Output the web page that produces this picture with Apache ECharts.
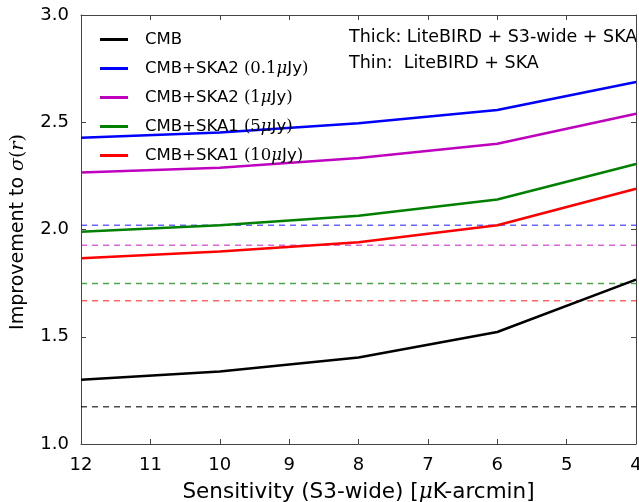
<!DOCTYPE html>
<html>
<head>
<meta charset="utf-8">
<script src="https://cdn.jsdelivr.net/npm/echarts@6/dist/echarts.min.js"></script>
<style>
  html, body { margin: 0; padding: 0; background: #fff; }
  #chart { width: 639px; height: 502px; }
</style>
</head>
<body>
<div id="chart"></div>
<script>
// sensitivity points (S3-wide, uK-arcmin)
const sens = [12, 10, 8, 6, 4];

// thick lines: LiteBIRD + S3-wide + SKA
const cmb      = [1.299, 1.338, 1.403, 1.522, 1.766];
const ska2_01  = [2.428, 2.452, 2.495, 2.557, 2.688];
const ska2_1   = [2.266, 2.288, 2.333, 2.400, 2.540];
const ska1_5   = [1.990, 2.020, 2.064, 2.140, 2.305];
const ska1_10  = [1.866, 1.897, 1.941, 2.020, 2.190];

// thin dashed lines: LiteBIRD + SKA (flat)
const thin = { cmb: 1.174, ska2_01: 2.020, ska2_1: 1.927, ska1_5: 1.748, ska1_10: 1.668 };

const names = ['CMB', 'CMB+SKA2 (0.1μJy)', 'CMB+SKA2 (1μJy)', 'CMB+SKA1 (5μJy)', 'CMB+SKA1 (10μJy)'];
const colors = ['#000000', '#0000ff', '#bf00bf', '#008000', '#ff0000'];
const dashColors = ['rgba(0,0,0,0.7)', 'rgba(0,0,255,0.6)', 'rgba(191,0,191,0.6)', 'rgba(0,128,0,0.7)', 'rgba(255,0,0,0.6)'];
const thick = [cmb, ska2_01, ska2_1, ska1_5, ska1_10];
const thinVals = [thin.cmb, thin.ska2_01, thin.ska2_1, thin.ska1_5, thin.ska1_10];

const SANS = 'DejaVu Sans';
const SERIF = 'DejaVu Serif';
const axisCol = '#444';

const chart = echarts.init(document.getElementById('chart'));

const series = [];
thinVals.forEach((v, i) => {
  series.push({
    name: names[i] + ' thin', type: 'line', symbol: 'none', silent: true,
    data: [[sens[0], v], [sens[sens.length - 1], v]],
    lineStyle: { color: dashColors[i], width: 1.5, type: [6, 5] },
    z: 1,
  });
});
thick.forEach((arr, i) => {
  series.push({
    name: names[i], type: 'line', symbol: 'none',
    data: arr.map((v, j) => [sens[j], v]),
    lineStyle: { color: colors[i], width: 2.5 },
    itemStyle: { color: colors[i] },
    z: 3,
  });
});

// legend labels with math-ish parts
function legendFmt(n) {
  const m = n.match(/^(.*)\((.*)μJy\)$/);
  if (!m) return '{a|' + n + '}';
  return '{a|' + m[1] + '}{m|(' + m[2] + '}{mi|μ}{a|Jy}{m|)}';
}

chart.setOption({
  animation: false,
  backgroundColor: '#fff',
  grid: { left: 81, right: 3, top: 15, bottom: 58, outerBoundsMode: 'none' },
  legend: {
    data: names,
    orient: 'vertical',
    left: 95, top: 26,
    icon: 'rect', itemWidth: 28, itemHeight: 3, itemGap: 12,
    formatter: legendFmt,
    textStyle: {
      padding: [0, 0, 0, 12],
      rich: {
        a: { fontFamily: SANS, fontSize: 16.5, color: '#000', lineHeight: 20 },
        m: { fontFamily: SERIF, fontSize: 16.5, color: '#000', lineHeight: 20 },
        mi: { fontFamily: SERIF, fontStyle: 'italic', fontSize: 16.5, color: '#000', lineHeight: 20 },
      },
    },
  },
  xAxis: [
    {
      type: 'value', inverse: true, min: 4, max: 12, interval: 1,
      position: 'bottom',
      name: '{a|Sensitivity (S3-wide) [}{mi|μ}{a|K-arcmin]}',
      nameLocation: 'middle', nameGap: 37,
      nameTextStyle: {
        rich: {
          a: { fontFamily: SANS, fontSize: 21.5, color: '#000' },
          mi: { fontFamily: SERIF, fontStyle: 'italic', fontSize: 21.5, color: '#000' },
        },
      },
      axisLine: { lineStyle: { color: axisCol, width: 1 } },
      axisTick: { inside: true, length: 5, lineStyle: { color: axisCol } },
      axisLabel: { fontFamily: SANS, fontSize: 18, color: '#000', margin: 12 },
      splitLine: { show: false },
    },
    {
      type: 'value', inverse: true, min: 4, max: 12, interval: 1,
      position: 'top',
      axisLine: { lineStyle: { color: axisCol, width: 1 } },
      axisTick: { inside: true, length: 5, lineStyle: { color: axisCol } },
      axisLabel: { show: false },
      splitLine: { show: false },
    },
  ],
  yAxis: [
    {
      type: 'value', min: 1, max: 3, interval: 0.5,
      position: 'left',
      axisLine: { show: true, lineStyle: { color: axisCol, width: 1 } },
      axisTick: { show: true, inside: true, length: 5, lineStyle: { color: axisCol } },
      axisLabel: { fontFamily: SANS, fontSize: 18, color: '#000', margin: 12,
        formatter: v => v.toFixed(1) },
      splitLine: { show: false },
    },
    {
      type: 'value', min: 1, max: 3, interval: 0.5,
      position: 'right',
      axisLine: { show: true, lineStyle: { color: axisCol, width: 1 } },
      axisTick: { show: true, inside: true, length: 5, lineStyle: { color: axisCol } },
      axisLabel: { show: false },
      splitLine: { show: false },
    },
  ],
  graphic: [
    { type: 'text', x: 18, y: 232, rotation: Math.PI / 2,
      style: {
        text: '{a|Improvement to }{mi|σ}{m|(}{mi|r}{m|)}',
        align: 'center', verticalAlign: 'middle',
        rich: {
          a: { fontFamily: SANS, fontSize: 19, fill: '#000' },
          m: { fontFamily: SERIF, fontSize: 19, fill: '#000' },
          mi: { fontFamily: SERIF, fontStyle: 'italic', fontSize: 19, fill: '#000' },
        },
      } },
    { type: 'text', left: 349, top: 28,
      style: { text: 'Thick: LiteBIRD + S3-wide + SKA', font: '17.5px "DejaVu Sans"', fill: '#000' } },
    { type: 'text', left: 349, top: 54,
      style: { text: 'Thin:  LiteBIRD + SKA', font: '17.5px "DejaVu Sans"', fill: '#000' } },
  ],
  series: series,
});
</script>
</body>
</html>
